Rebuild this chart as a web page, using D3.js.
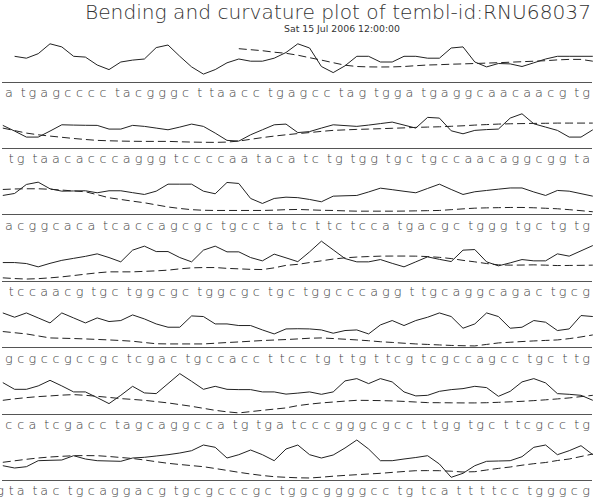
<!DOCTYPE html>
<html><head><meta charset="utf-8">
<script src="https://cdn.jsdelivr.net/npm/d3@7"></script>
<style>body{margin:0;background:#fff}svg{display:block}</style>
</head><body>
<svg id="chart" width="594" height="501"></svg>
<script>
const titleText = "Bending and curvature plot of tembl-id:RNU68037";
const subtitleText = "Sat 15 Jul 2006 12:00:00";

const sequenceLines = [
  "atgagcccctacgggcttaacctgagcctagtggatgaggcaacaacgtg",
  "tgtaacacccagggtccccaatacatctgtggtgctgccaacaggcggta",
  "acggcacatcaccagcgctgcctatcttctccatgacgctgggtgctgtg",
  "tccaacgtgctggcgctggcgctgctggcccaggttgcaggcagactgcg",
  "gcgccgccgctcgactgccaccttcctgttgttcgtcgccagcctgcttg",
  "ccatcgacctagcaggccatgtgatcccgggcgccttggtgcttcgcctg",
  "tatactgcaggacgtgcgcccgctggcggggcctgtcattttcctgggcgg"
];

const bending1 = [null,25.4,23.5,28,37.9,34.8,25.4,24.6,16.7,12.1,19.7,21.6,22.7,34.1,36.7,25.4,14.8,7.6,12.1,18.9,22.7,20.5,20.5,23.5,29.2,37.9,33.7,15.2,9.1,15.9,25.4,25.4,19.7,19.7,25.4,25.4,23.5,23.5,33.7,34.8,19.7,14.8,18.2,17.8,15.2,18.9,22.7,25.4,25.4,25.4,25.4];
const bending2 = [22.7,17,11,11,17,23.3,23,22.8,22.7,19,19,22.7,21.7,20,18.3,21,24,21.7,15,7.7,7,13.3,18.3,23.3,24,15.5,16.5,20,23.3,22.5,21.7,23,24.5,26,23,20,30.7,30,17.3,14.3,17.7,18.5,19,30,34.3,24.3,21,17.7,11,11,18.3];
const bending3 = [19,21,30,32.3,25.7,23.3,23.5,23.7,21.7,23.7,23.7,21.8,20,23.3,30.3,30.3,30.3,23.3,20.7,32,31,16,11,16,17.3,16.8,15,12.7,18.3,18.7,19,22.5,26.3,24.8,23.2,21.7,26,30.3,25,20,22.7,24,25.3,26.5,26.5,22.5,19,24,23.3,20.8,18.3];
const bending4 = [18.3,18.3,17.3,14,17.5,20.5,22.5,24.5,27,23.3,19,30.7,34.7,29.3,29.3,23.3,19,30.7,34.7,29,29,23.3,20,26.7,23,19.2,29,39.7,31,22.3,19,19,21.3,17.5,14,19,24,21.5,19.3,30.7,31.3,19,15,18,21.3,20,20,27,24.7,30,35.3];
const bending5 = [34.3,30,34.3,29.3,24.3,34.3,29.3,24.3,29.3,25.7,26.7,32.3,28.3,23.3,20,20,31.3,30.7,23.3,23.3,21.7,21.7,17.3,13.3,18.3,18.5,18.3,17.3,14,16.7,17.3,13.3,22.3,26.7,21.7,26.7,30,34.3,30.7,19,23.3,34.3,30.7,19,20,26.7,25,16.7,18.3,31.7,30.7];
const bending6 = [31,24.3,24.3,27.7,33.3,27.7,21.7,21.7,16,10,18.3,27.3,20.7,20,30,40,32.3,24.3,27.3,24.3,24,24,21.7,21.7,19.5,20.5,21.7,19.3,21.7,32.7,35,30,35,31.7,21.7,17.7,18.3,22.3,24,25,27.3,26,17.3,22.3,31.7,35,30.7,20,19.3,18.3,13.3];
const bending7 = [14.3,12,13.3,19.3,19.7,20,24.3,21,19.3,19,18.7,22,22.7,24,25.3,27,29.3,35,32.7,22,25.3,30,25.3,19.3,31,35,25.3,22,25,32,40,31,19.3,19.3,21,22.5,24.3,16,2.7,6.7,14.3,18.7,19,19.3,23.3,32.7,35,25.3,29.3,34.3,25.3];

const curvature1 = [null,null,null,null,null,null,null,null,null,null,null,null,null,null,null,null,null,null,null,null,33,32,31,29.5,28.4,26.5,24,21.6,19,16.5,15.2,14.8,14.7,14.8,15.2,16,16.7,17,17.5,17.8,18.2,18.6,19,19.5,20,20.5,21,21.8,22.3,22.3,20.5];
const curvature2 = [20,17.5,15,13.3,12,10.8,9.6,8.6,7.7,7.3,7,6.8,6.7,6.7,6.7,6.3,6,5.8,5.7,6,7,8.8,10.5,12,13.3,14.5,15.5,16.7,17.7,18.2,18.7,19,19.4,19.8,20.2,20.7,21,21.3,21.8,22.3,23,23.5,24,24.3,24.5,24.7,24.8,25,25,25,25];
const curvature3 = [25,25.5,25.7,25.7,25.2,24.4,23.5,22.7,19.8,16.7,15,13.3,11.7,9.6,7.5,6,4.8,4.2,4,4,4,4,4,4.3,4.8,5,4.6,4.2,4,3.6,3.3,3.3,3.3,3.3,3.4,3.6,3.8,4,4.8,5.6,6.3,6.6,6.8,7,7,6.7,6.2,5.7,4.8,3.8,2.7];
const curvature4 = [3,2.3,1.8,2.2,3,4,5.3,6.7,8,9,9,9,9.5,10,10.7,12,13,13.3,13.3,12.5,12,11.5,11.3,13,15.5,16.5,18.3,20,21.8,23,23.8,24.3,24.7,24.8,24.8,24.7,24.3,23.5,22.3,20.5,19,17.3,16,15.7,15.8,16,15.7,15.3,15.4,15.5,15.7];
const curvature5 = [15.7,14.5,13.3,11.3,9.3,9,8.7,8.3,7.8,7.3,6.7,6,4.7,3.5,3.3,3.3,3.3,3.3,4,4.7,5.3,6,6.7,7.2,7.7,8.3,9,9.3,8.7,8,7.3,6.5,5.5,4.8,4,3.3,2.8,2.3,1.8,1.5,1.3,2.8,4.3,5,5.7,6.3,6.8,7.3,8.6,10.3,12.3];
const curvature6 = [13.3,14.8,16,17,17.7,18.5,19,18.3,17.3,16.2,15,14.2,13.3,12,10.7,9,7.3,5.3,3.3,1.8,0.7,2,3.3,4.5,5.7,8,9.5,10.7,11.6,12.5,13.3,13.2,13,12.7,12.2,11.6,11,10.9,10.8,10.7,10.7,10.9,11.3,11.8,12.3,13,13.8,14.7,15.7,17,18.3];
const curvature7 = [17.7,19.2,20.7,22,23,23.7,24.3,24.4,24.3,23.5,22.5,21.5,20,18.3,16.7,15.5,14.4,13.3,11.5,9.6,7.7,6,4.5,3.3,2.7,2.2,2,2.8,3.8,4.6,5.3,6,6.7,7.6,8.5,9.3,9.4,9.3,8.8,8,8.3,10,11.6,13,14.8,16.3,17.5,19.5,21,23.5,26];

const bendingRows = [bending1,bending2,bending3,bending4,bending5,bending6,bending7];
const curvatureRows = [curvature1,curvature2,curvature3,curvature4,curvature5,curvature6,curvature7];

const W = 594, H = 501;
const svg = d3.select("#chart");
svg.append("rect").attr("width", W).attr("height", H).attr("fill", "#fff");

const fontFam = "'DejaVu Sans', 'Liberation Sans', sans-serif";

svg.append("text")
  .attr("x", 85).attr("y", 19)
  .attr("textLength", 506).attr("lengthAdjust", "spacingAndGlyphs")
  .attr("font-family", fontFam).attr("font-weight", 200)
  .attr("font-size", 19).attr("fill", "#333")
  .text(titleText);

svg.append("text")
  .attr("x", 342).attr("y", 32).attr("text-anchor", "middle")
  .attr("textLength", 116).attr("lengthAdjust", "spacingAndGlyphs")
  .attr("font-family", fontFam).attr("font-size", 8.5).attr("fill", "#333")
  .text(subtitleText);

const ruleY = d3.scaleLinear().domain([0, 6]).range([81.7, 480]);
const x = d3.scaleLinear().domain([0, 50]).range([2.8, 592.8]);
const cell = d3.scaleBand().domain(d3.range(50)).range([3, 592]);

sequenceLines.forEach((seq, r) => {
  const R = ruleY(r);
  const y = d3.scaleLinear().domain([0, 40]).range([R, R - 40]);
  const g = svg.append("g");

  g.append("line")
    .attr("x1", 2).attr("x2", 592)
    .attr("y1", Math.round(R) + 0.5).attr("y2", Math.round(R) + 0.5)
    .attr("stroke", "#555").attr("stroke-width", 1);

  const line = d3.line()
    .defined(d => d != null)
    .x((d, i) => x(i))
    .y(d => y(d));

  g.append("path")
    .attr("d", line(curvatureRows[r]))
    .attr("fill", "none").attr("stroke", "#222").attr("stroke-width", 1)
    .attr("stroke-dasharray", "8,4");

  g.append("path")
    .attr("d", line(bendingRows[r]))
    .attr("fill", "none").attr("stroke", "#222").attr("stroke-width", 1);

  g.selectAll("text.base")
    .data(seq.split(""))
    .join("text")
    .attr("class", "base")
    .attr("x", (c, i) => cell(i) + cell.bandwidth() / 2 + (c === "t" ? 2.5 : 0))
    .attr("text-anchor", "middle")
    .attr("y", R + 15.3)
    .attr("font-family", fontFam).attr("font-weight", 200)
    .attr("font-size", 12.8).attr("fill", "#444")
    .text(c => c);
});
</script>
</body></html>
